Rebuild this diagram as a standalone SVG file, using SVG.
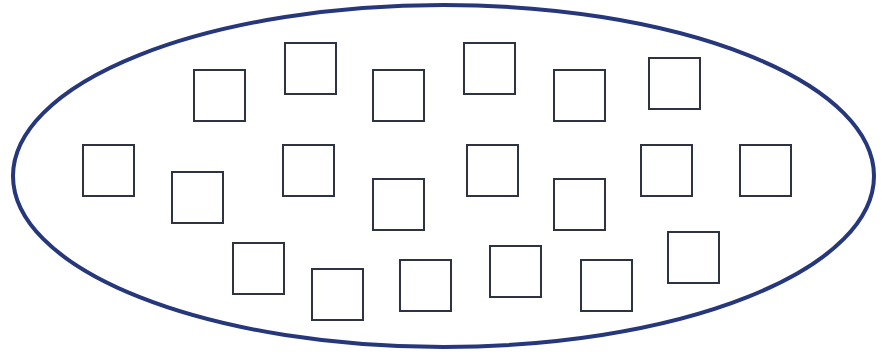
<svg xmlns="http://www.w3.org/2000/svg" width="890" height="354" viewBox="0 0 890 354">
<style>
.oval{fill:none;stroke:#26377c;stroke-width:4}
.sq{fill:#ffffff;stroke:#2e3344;stroke-width:2}
</style>
<rect width="890" height="354" fill="#ffffff"/>
<g id="container">
<ellipse class="oval" cx="443.5" cy="176" rx="430.5" ry="171"/>
</g>
<g id="nodes">
<g id="n1"><rect class="sq" x="194" y="70" width="51" height="51"/></g>
<g id="n2"><rect class="sq" x="285" y="43" width="51" height="51"/></g>
<g id="n3"><rect class="sq" x="373" y="70" width="51" height="51"/></g>
<g id="n4"><rect class="sq" x="83" y="145" width="51" height="51"/></g>
<g id="n5"><rect class="sq" x="172" y="172" width="51" height="51"/></g>
<g id="n6"><rect class="sq" x="283" y="145" width="51" height="51"/></g>
<g id="n7"><rect class="sq" x="373" y="179" width="51" height="51"/></g>
<g id="n8"><rect class="sq" x="233" y="243" width="51" height="51"/></g>
<g id="n9"><rect class="sq" x="312" y="269" width="51" height="51"/></g>
<g id="n10"><rect class="sq" x="400" y="260" width="51" height="51"/></g>
<g id="n11"><rect class="sq" x="464" y="43" width="51" height="51"/></g>
<g id="n12"><rect class="sq" x="554" y="70" width="51" height="51"/></g>
<g id="n13"><rect class="sq" x="649" y="58" width="51" height="51"/></g>
<g id="n14"><rect class="sq" x="467" y="145" width="51" height="51"/></g>
<g id="n15"><rect class="sq" x="554" y="179" width="51" height="51"/></g>
<g id="n16"><rect class="sq" x="641" y="145" width="51" height="51"/></g>
<g id="n17"><rect class="sq" x="740" y="145" width="51" height="51"/></g>
<g id="n18"><rect class="sq" x="490" y="246" width="51" height="51"/></g>
<g id="n19"><rect class="sq" x="581" y="260" width="51" height="51"/></g>
<g id="n20"><rect class="sq" x="668" y="232" width="51" height="51"/></g>
</g>
<g id="connectors"/>
</svg>
